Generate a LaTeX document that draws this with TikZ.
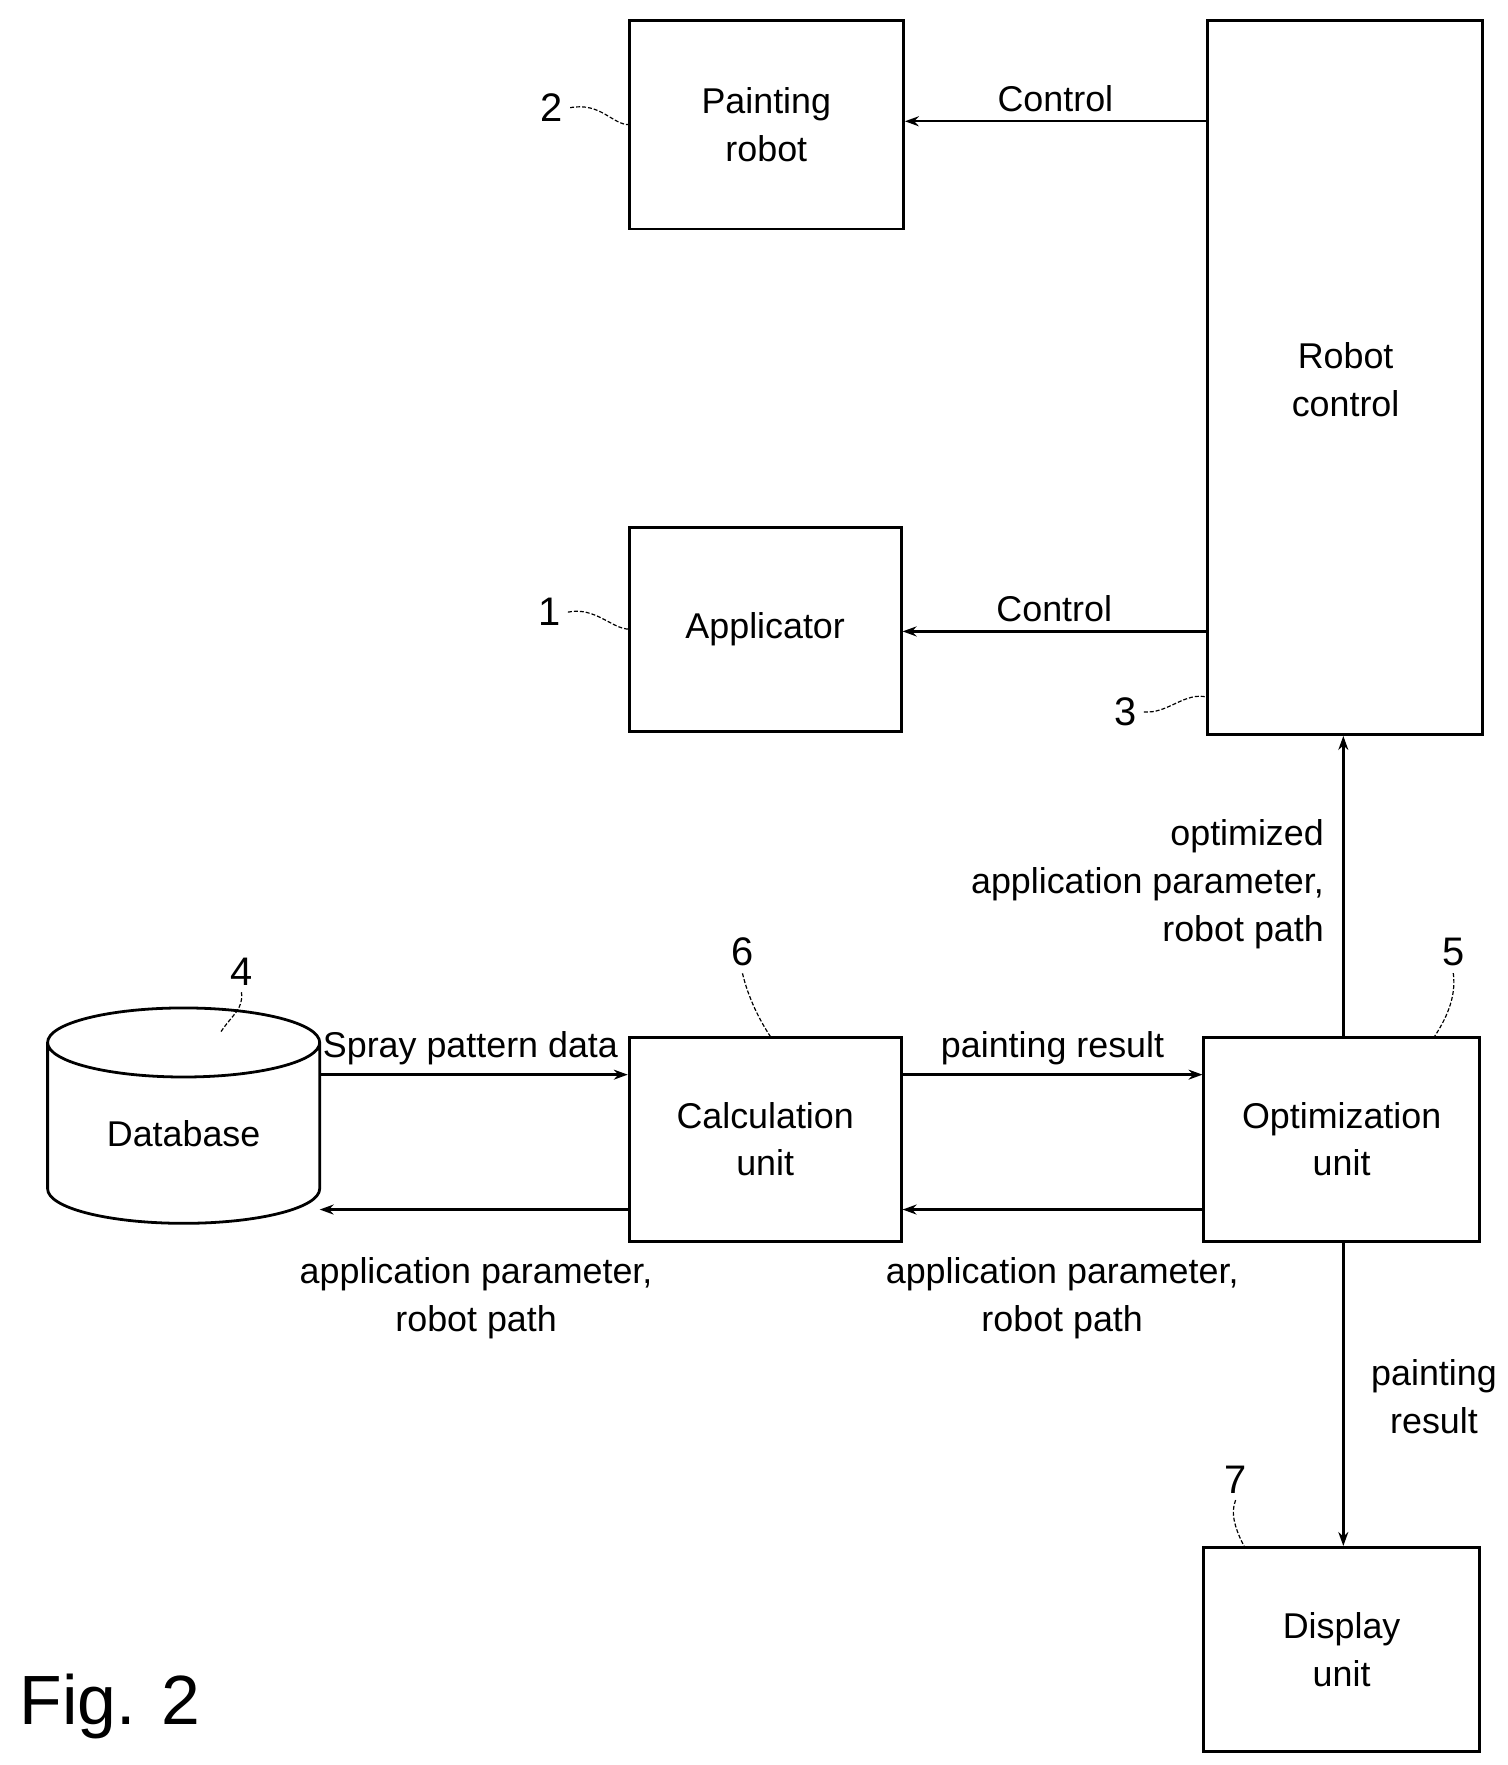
\documentclass[tikz,border=0pt]{standalone}
\usepackage{fontspec}
\setmainfont{Liberation Sans}
\usetikzlibrary{arrows.meta,shapes.geometric}
\begin{document}
\begin{tikzpicture}[x=0.02cm,y=-0.02cm,
  box/.style={draw,line width=1.4pt,inner sep=0pt,align=center,font=\fontsize{18}{24}\selectfont},
  lab/.style={font=\fontsize{18}{24}\selectfont,align=center},
  num/.style={font=\fontsize{20}{24}\selectfont},
  arr/.style={line width=1.2pt,-{Stealth[length=7pt,width=5pt]}},
  sq/.style={line width=0.6pt,dashed,dash pattern=on 2pt off 1pt}]
\useasboundingbox (0,0) rectangle (1330,1557);
\node[box,minimum width=242*0.02cm,minimum height=184*0.02cm] (pr) at (676,110) {Painting\\robot};
\node[box,minimum width=243*0.02cm,minimum height=630*0.02cm] (rc) at (1186.5,333) {};
\node[lab] at (1187,335) {Robot\\control};
\node[box,minimum width=240*0.02cm,minimum height=180*0.02cm] (ap) at (675,555) {Applicator};
\node[box,minimum width=243*0.02cm,minimum height=180*0.02cm] (op) at (1183.5,1005) {Optimization\\unit};
\node[box,minimum width=240*0.02cm,minimum height=180*0.02cm] (ca) at (675,1005) {Calculation\\unit};
\node[box,minimum width=243*0.02cm,minimum height=180*0.02cm] (di) at (1183.5,1455) {Display\\unit};
\node[draw,line width=1.4pt,cylinder,shape border rotate=90,aspect=0.45,minimum width=240*0.02cm,minimum height=190*0.02cm,inner sep=0pt,font=\fontsize{18}{24}\selectfont] (db) at (162,1000) {Database};
% arrows
\draw[arr] (rc.west|-0,107) -- (pr.east|-0,107) node[lab,midway,above=1pt] {Control};
\draw[arr] (rc.west|-0,557) -- (ap.east|-0,557) node[lab,midway,above=1pt] {Control};
\draw[arr] (op.north-|1185,0) -- (rc.south-|1185,0);
\node[lab,align=right,anchor=east] at (1174,780) {optimized\\application parameter,\\robot path};
\draw[arr] (282,948) -- (ca.west|-0,948);
\node[lab] at (415,925) {Spray pattern data};
\draw[arr] (ca.west|-0,1067) -- (282,1067);
\node[lab] at (420,1145) {application parameter,\\robot path};
\draw[arr] (ca.east|-0,948) -- (op.west|-0,948) node[lab,midway,above=1pt] {painting result};
\draw[arr] (op.west|-0,1067) -- (ca.east|-0,1067);
\node[lab] at (937,1145) {application parameter,\\robot path};
\draw[arr] (op.south-|1185,0) -- (di.north-|1185,0);
\node[lab] at (1265,1232) {painting\\result};
% reference numbers
\node[num] (n2) at (487,95) {2};
\draw[sq] (n2.east) .. controls (530,90) and (540,110) .. (555,110);
\node[num] (n1) at (485,540) {1};
\draw[sq] (n1.east) .. controls (525,535) and (540,555) .. (555,555);
\node[num] (n3) at (993,628) {3};
\draw[sq] (n3.east) .. controls (1030,630) and (1045,610) .. (1065,615);
\node[num] (n4) at (213,857) {4};
\draw[sq] (n4.south) .. controls (215,890) and (205,895) .. (195,910);
\node[num] (n6) at (655,840) {6};
\draw[sq] (n6.south) .. controls (660,880) and (670,900) .. (680,915);
\node[num] (n5) at (1282,840) {5};
\draw[sq] (n5.south) .. controls (1285,880) and (1275,900) .. (1265,915);
\node[num] (n7) at (1090,1305) {7};
\draw[sq] (n7.south) .. controls (1085,1335) and (1090,1350) .. (1098,1365);
\node[font=\fontsize{35}{40}\selectfont] at (97,1505) {Fig. 2};
\end{tikzpicture}
\end{document}
